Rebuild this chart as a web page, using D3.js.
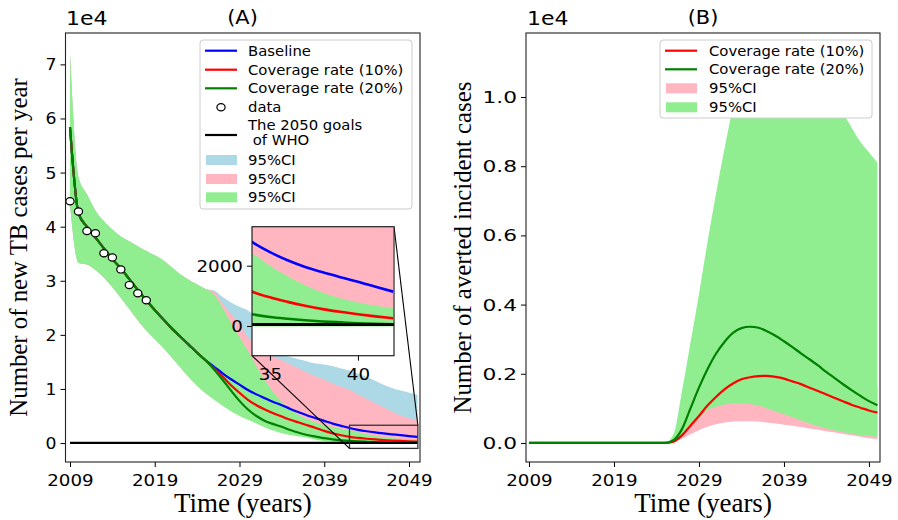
<!DOCTYPE html>
<html><head><meta charset="utf-8">
<script src="https://cdn.jsdelivr.net/npm/d3@7"></script>
<style>body{margin:0;background:#fff} svg{display:block}</style>
</head><body>
<script>
// ---------------- DATA (values in units of 1e4) ----------------
const years = [2009,2010,2011,2012,2013,2014,2015,2016,2017,2018,2019,2020,2021,2022,2023,2024,2025,
  2026,2027,2028,2029,2030,2031,2032,2033,2034,2035,2036,2037,2038,2039,2040,2041,2042,2043,2044,2045,2046,2047,2048,2049,2050];

// Panel A: new TB cases per year
const baseline = [5.84,4.25,4.0,3.8,3.6,3.4,3.23,3.03,2.83,2.64,2.46,2.29,2.12,1.97,1.82,1.67,1.53,
  1.41,1.29,1.18,1.08,0.98,0.9,0.83,0.76,0.7,0.63,0.57,0.51,0.46,0.41,0.36,0.318,0.278,0.245,0.218,0.196,0.178,0.162,0.147,0.13,0.114];
const cov10 = [5.84,4.25,4.0,3.8,3.6,3.4,3.23,3.03,2.83,2.64,2.46,2.29,2.12,1.97,1.82,1.67,1.53,
  1.38,1.23,1.07,0.93,0.8,0.7,0.62,0.55,0.49,0.43,0.38,0.33,0.28,0.225,0.18,0.145,0.114,0.095,0.08,0.067,0.056,0.047,0.039,0.032,0.0255];
const cov20 = [5.84,4.25,4.0,3.8,3.6,3.4,3.23,3.03,2.83,2.64,2.46,2.29,2.12,1.97,1.82,1.67,1.53,
  1.36,1.17,0.97,0.78,0.62,0.5,0.41,0.35,0.3,0.24,0.19,0.15,0.12,0.09,0.068,0.051,0.0388,0.03,0.024,0.019,0.015,0.012,0.009,0.007,0.0056];

const baseCIlow = [4.4,3.33,3.3,3.2,3.06,2.88,2.68,2.48,2.27,2.08,1.92,1.76,1.58,1.4,1.22,1.06,0.92,
  0.84,0.75,0.66,0.58,0.51,0.45,0.39,0.34,0.29,0.25,0.21,0.18,0.15,0.13,0.11,0.095,0.08,0.07,0.06,0.052,0.045,0.04,0.035,0.03,0.026];
const baseCIhigh = [7.2,4.92,4.6,4.3,4.1,3.95,3.82,3.73,3.64,3.55,3.47,3.38,3.25,3.12,3.02,2.93,2.85,
  2.82,2.7,2.6,2.52,2.45,2.3,2.05,1.75,1.64,1.59,1.55,1.51,1.47,1.45,1.42,1.38,1.34,1.28,1.22,1.15,1.08,1.02,0.97,0.93,0.89];
const cov10CIlow = [4.4,3.33,3.3,3.2,3.06,2.88,2.68,2.48,2.27,2.08,1.92,1.76,1.58,1.4,1.22,1.06,0.92,
  0.82,0.72,0.62,0.53,0.46,0.39,0.33,0.27,0.22,0.18,0.15,0.12,0.1,0.08,0.065,0.05,0.04,0.032,0.026,0.021,0.017,0.014,0.011,0.009,0.007];
const cov10CIhigh = [7.2,4.92,4.6,4.3,4.1,3.95,3.82,3.73,3.64,3.55,3.47,3.38,3.25,3.12,3.02,2.93,2.85,
  2.8,2.58,2.38,2.2,1.95,1.8,1.68,1.6,1.53,1.45,1.38,1.3,1.23,1.17,1.1,1.04,0.98,0.9,0.82,0.74,0.66,0.58,0.51,0.46,0.42];
const cov20CIlow = [4.4,3.33,3.3,3.2,3.06,2.88,2.68,2.48,2.27,2.08,1.92,1.76,1.58,1.4,1.22,1.06,0.92,
  0.8,0.69,0.59,0.5,0.43,0.36,0.29,0.23,0.18,0.15,0.12,0.1,0.06,0.04,0.025,0.012,-0.002,-0.002,-0.002,-0.002,-0.002,-0.002,-0.002,-0.002,-0.002];
const cov20CIhigh = [7.2,4.92,4.6,4.3,4.1,3.95,3.82,3.73,3.64,3.55,3.47,3.38,3.25,3.12,3.02,2.93,2.85,
  2.75,2.5,2.22,1.96,1.7,1.42,1.16,0.94,0.76,0.62,0.52,0.44,0.38,0.33,0.295,0.265,0.24,0.2,0.165,0.135,0.11,0.092,0.078,0.067,0.059];

const dataYears = [2009,2010,2011,2012,2013,2014,2015,2016,2017,2018];
const dataCases = [4.47,4.28,3.92,3.88,3.51,3.43,3.21,2.92,2.77,2.64];
const whoGoal = 0.005;

// Panel B: averted incident cases
const avert10 = [0,0,0,0,0,0,0,0,0,0,0,0,0,0,0,0,0,
  0.004,0.022,0.05,0.078,0.108,0.133,0.155,0.172,0.184,0.19,0.193,0.194,0.191,0.186,0.178,0.17,0.16,0.15,0.14,0.13,0.12,0.11,0.102,0.094,0.088];
const avert20 = [0,0,0,0,0,0,0,0,0,0,0,0,0,0,0,0,0,
  0.008,0.04,0.1,0.16,0.213,0.258,0.292,0.318,0.332,0.336,0.333,0.323,0.31,0.294,0.277,0.259,0.242,0.224,0.205,0.187,0.169,0.152,0.136,0.121,0.109];
const avert10CIlow = [0,0,0,0,0,0,0,0,0,0,0,0,0,0,0,0,0,
  0.002,0.012,0.025,0.037,0.047,0.054,0.059,0.062,0.063,0.063,0.062,0.059,0.056,0.053,0.05,0.046,0.042,0.038,0.034,0.03,0.026,0.022,0.018,0.014,0.011];
const avert10CIhigh = [0,0,0,0,0,0,0,0,0,0,0,0,0,0,0,0,0,
  0.01,0.05,0.1,0.15,0.2,0.24,0.27,0.29,0.3,0.3,0.3,0.3,0.29,0.28,0.27,0.26,0.25,0.24,0.22,0.21,0.2,0.19,0.18,0.17,0.16];
const avert20CIlow = [0,0,0,0,0,0,0,0,0,0,0,0,0,0,0,0,0,
  0.004,0.022,0.045,0.072,0.095,0.105,0.111,0.114,0.115,0.113,0.108,0.1,0.092,0.083,0.074,0.065,0.056,0.048,0.042,0.036,0.031,0.027,0.023,0.02,0.018];
const avert20CIhigh = [0,0,0,0,0,0,0,0,0,0,0,0,0,0,0,0,0,
  0.025,0.15,0.29,0.43,0.58,0.72,0.85,0.97,1.05,1.1,1.12,1.13,1.13,1.12,1.1,1.08,1.06,1.04,1.01,0.98,0.95,0.91,0.87,0.84,0.81];

const xTicks = [2009,2019,2029,2039,2049];
const yTicksA = [0,1,2,3,4,5,6,7];
const yTicksB = [0,0.2,0.4,0.6,0.8,1.0];
const insetXTicks = [35,40];
const insetYTicks = [0,2000];
const legendA = ["Baseline","Coverage rate (10%)","Coverage rate (20%)","data","The 2050 goals"," of WHO","95%CI","95%CI","95%CI"];
const legendB = ["Coverage rate (10%)","Coverage rate (20%)","95%CI","95%CI"];

// ---------------- STYLE ----------------
const C = {blue:"#0000ff", red:"#ff0000", green:"#008000", lblue:"#add8e6", pink:"#ffb6c1", lgreen:"#90ee90"};
const SANS = "DejaVu Sans", SERIF = "Liberation Serif";
const CURVE = d3.curveMonotoneX;

const svg = d3.select("body").append("svg").attr("width",898).attr("height",520);

function text(parent, x, y, s, o={}) {
  return parent.append("text")
    .attr("transform", `translate(${x},${y})` + (o.rot ? ` rotate(${o.rot})` : "") + ` scale(${o.sx||1},1)`)
    .attr("font-family", o.family || SANS)
    .attr("font-size", o.size || 15)
    .attr("text-anchor", o.anchor || "start")
    .attr("fill", "#000")
    .style("white-space","pre")
    .text(s);
}

function frameAxes(box, x, y, xt, yt, yfmt, ysx) {
  const g = svg.append("g");
  const gx = g.append("g").attr("transform",`translate(0,${box.b})`)
    .call(d3.axisBottom(x).tickValues(xt).tickSize(5).tickFormat(d3.format("d")));
  gx.select(".domain").remove();
  gx.selectAll(".tick line").attr("stroke","#000").attr("stroke-width",1);
  gx.selectAll(".tick text").attr("y",null).attr("dy",null)
    .attr("transform","translate(0,24) scale(1.22,1)")
    .attr("font-family",SANS).attr("font-size",15).attr("fill","#000");
  const gy = g.append("g").attr("transform",`translate(${box.l},0)`)
    .call(d3.axisLeft(y).tickValues(yt).tickSize(5).tickFormat(yfmt));
  gy.select(".domain").remove();
  gy.selectAll(".tick line").attr("stroke","#000").attr("stroke-width",1);
  gy.selectAll(".tick text").attr("x",null).attr("dy",null)
    .attr("transform",`translate(-9,5.5) scale(${ysx},1)`)
    .attr("font-family",SANS).attr("font-size",15).attr("fill","#000");
  return g;
}

function area(x, y, lo, hi, yr, k=1) {
  return d3.area().curve(CURVE).x((d,i)=>x(yr[i])).y0((d,i)=>y(lo[i]*k)).y1((d,i)=>y(hi[i]*k))(lo);
}
function line(x, y, v, yr, k=1) {
  return d3.line().curve(CURVE).x((d,i)=>x(yr[i])).y((d,i)=>y(v[i]*k))(v);
}

// ---------------- PANEL A ----------------
const A = {l:65.5, r:420, t:33, b:462};
const xA = d3.scaleLinear().domain([2008.47, 2050.3]).range([A.l, A.r]);
const yA = d3.scaleLinear().domain([-0.35, 7.58]).range([A.b, A.t]);

svg.append("clipPath").attr("id","clipA").append("rect")
  .attr("x",A.l).attr("y",A.t).attr("width",A.r-A.l).attr("height",A.b-A.t);
const pA = svg.append("g").attr("clip-path","url(#clipA)");
pA.append("path").attr("d",area(xA,yA,baseCIlow,baseCIhigh,years)).attr("fill",C.lblue);
pA.append("path").attr("d",area(xA,yA,cov10CIlow,cov10CIhigh,years)).attr("fill",C.pink);
pA.append("path").attr("d",area(xA,yA,cov20CIlow,cov20CIhigh,years)).attr("fill",C.lgreen);
pA.append("path").attr("d",line(xA,yA,baseline,years)).attr("fill","none").attr("stroke",C.blue).attr("stroke-width",2.2);
pA.append("path").attr("d",line(xA,yA,cov10,years)).attr("fill","none").attr("stroke",C.red).attr("stroke-width",2.2);
pA.append("path").attr("d",line(xA,yA,cov20,years)).attr("fill","none").attr("stroke",C.green).attr("stroke-width",2.2);
pA.selectAll("ellipse.obs").data(dataCases).join("ellipse").attr("class","obs")
  .attr("cx",(d,i)=>xA(dataYears[i])).attr("cy",d=>yA(d)).attr("rx",4.1).attr("ry",3.6)
  .attr("fill","#fff").attr("stroke","#000").attr("stroke-width",1.2);
pA.append("line").attr("x1",xA(years[0])).attr("x2",xA(years[years.length-1]))
  .attr("y1",yA(whoGoal)).attr("y2",yA(whoGoal)).attr("stroke","#000").attr("stroke-width",2.2);

frameAxes(A, xA, yA, xTicks, yTicksA, d3.format("d"), 1.15);
svg.append("rect").attr("x",A.l).attr("y",A.t).attr("width",A.r-A.l).attr("height",A.b-A.t)
  .attr("fill","none").attr("stroke","#222").attr("stroke-width",1.1);

// inset
const I = {l:252, r:394, t:226.7, b:355.7};
const xI = d3.scaleLinear().domain([33.98, 42.05]).range([I.l, I.r]);
const yI = d3.scaleLinear().domain([-985, 3293]).range([I.b, I.t]);
const yrsT = years.map(d=>d-2008);
const bx0 = xA(33.98+2008), bx1 = xA(42.05+2008), by0 = yA(3293/1e4), by1 = yA(-985/1e4);
svg.append("rect").attr("x",bx0).attr("y",by0).attr("width",bx1-bx0).attr("height",by1-by0)
  .attr("fill","none").attr("stroke","#333").attr("stroke-width",1.3);
svg.append("line").attr("x1",I.l).attr("y1",I.b).attr("x2",bx0).attr("y2",by1).attr("stroke","#000").attr("stroke-width",1.1);
svg.append("line").attr("x1",I.r).attr("y1",I.t).attr("x2",bx1).attr("y2",by0).attr("stroke","#000").attr("stroke-width",1.1);

svg.append("rect").attr("x",I.l).attr("y",I.t).attr("width",I.r-I.l).attr("height",I.b-I.t).attr("fill","#fff");
svg.append("clipPath").attr("id","clipI").append("rect")
  .attr("x",I.l).attr("y",I.t).attr("width",I.r-I.l).attr("height",I.b-I.t);
const pI = svg.append("g").attr("clip-path","url(#clipI)");
pI.append("path").attr("d",area(xI,yI,baseCIlow,baseCIhigh,yrsT,1e4)).attr("fill",C.lblue);
pI.append("path").attr("d",area(xI,yI,cov10CIlow,cov10CIhigh,yrsT,1e4)).attr("fill",C.pink);
pI.append("path").attr("d",area(xI,yI,cov20CIlow,cov20CIhigh,yrsT,1e4)).attr("fill",C.lgreen);
pI.append("path").attr("d",line(xI,yI,baseline,yrsT,1e4)).attr("fill","none").attr("stroke",C.blue).attr("stroke-width",2.6);
pI.append("path").attr("d",line(xI,yI,cov10,yrsT,1e4)).attr("fill","none").attr("stroke",C.red).attr("stroke-width",2.6);
pI.append("path").attr("d",line(xI,yI,cov20,yrsT,1e4)).attr("fill","none").attr("stroke",C.green).attr("stroke-width",2.6);
pI.append("line").attr("x1",I.l).attr("x2",I.r).attr("y1",yI(whoGoal*1e4)).attr("y2",yI(whoGoal*1e4))
  .attr("stroke","#000").attr("stroke-width",3.2);
frameAxes(I, xI, yI, insetXTicks, insetYTicks, d3.format("d"), 1.22);
svg.append("rect").attr("x",I.l).attr("y",I.t).attr("width",I.r-I.l).attr("height",I.b-I.t)
  .attr("fill","none").attr("stroke","#222").attr("stroke-width",1.2);

// labels A
text(svg, 66, 25, "1e4", {size:20, sx:1.1});
text(svg, 242.5, 24, "(A)", {size:19, sx:1.1, anchor:"middle"});
text(svg, 242.75, 512, "Time (years)", {size:27, family:SERIF, anchor:"middle"});
text(svg, 27, 247.5, "Number of new TB cases per year", {size:24.8, family:SERIF, anchor:"middle", rot:-90});

// legend A
const LA = svg.append("g");
LA.append("rect").attr("x",200).attr("y",40).attr("width",212).attr("height",169).attr("rx",3)
  .attr("fill","#fff").attr("stroke","#ccc").attr("stroke-width",1);
const lyA = [50.7,69.7,88.3,107.3,135,160,179,197.3];
[[C.blue,0],[C.red,1],[C.green,2],["#000",4]].forEach(([c,i])=>{
  LA.append("line").attr("x1",205).attr("x2",237).attr("y1",lyA[i]).attr("y2",lyA[i]).attr("stroke",c).attr("stroke-width",2.2);
});
LA.append("ellipse").attr("cx",221).attr("cy",lyA[3]).attr("rx",4.1).attr("ry",3.6).attr("fill","#fff").attr("stroke","#000").attr("stroke-width",1.2);
[[C.lblue,5],[C.pink,6],[C.lgreen,7]].forEach(([c,i])=>{
  LA.append("rect").attr("x",206).attr("y",lyA[i]-5).attr("width",31).attr("height",10).attr("fill",c);
});
const lfs = 13.5, loff = 0.36*lfs;
text(LA, 248, lyA[0]+loff, legendA[0], {size:lfs, sx:1.1});
text(LA, 248, lyA[1]+loff, legendA[1], {size:lfs, sx:1.1});
text(LA, 248, lyA[2]+loff, legendA[2], {size:lfs, sx:1.1});
text(LA, 248, lyA[3]+loff, legendA[3], {size:lfs, sx:1.1});
text(LA, 248, 125.6+loff, legendA[4], {size:lfs, sx:1.1});
text(LA, 248, 139.8+loff, legendA[5], {size:lfs, sx:1.1});
text(LA, 248, lyA[5]+loff, legendA[6], {size:lfs, sx:1.1});
text(LA, 248, lyA[6]+loff, legendA[7], {size:lfs, sx:1.1});
text(LA, 248, lyA[7]+loff, legendA[8], {size:lfs, sx:1.1});

// ---------------- PANEL B ----------------
const B = {l:526, r:880, t:33, b:462};
const xB = d3.scaleLinear().domain([2008.65, 2050.3]).range([B.l, B.r]);
const yB = d3.scaleLinear().domain([-0.055, 1.185]).range([B.b, B.t]);
svg.append("clipPath").attr("id","clipB").append("rect")
  .attr("x",B.l).attr("y",B.t).attr("width",B.r-B.l).attr("height",B.b-B.t);
const pB = svg.append("g").attr("clip-path","url(#clipB)");
pB.append("path").attr("d",area(xB,yB,avert10CIlow,avert10CIhigh,years)).attr("fill",C.pink);
pB.append("path").attr("d",area(xB,yB,avert20CIlow,avert20CIhigh,years)).attr("fill",C.lgreen);
pB.append("path").attr("d",line(xB,yB,avert10,years)).attr("fill","none").attr("stroke",C.red).attr("stroke-width",2.2);
pB.append("path").attr("d",line(xB,yB,avert20,years)).attr("fill","none").attr("stroke",C.green).attr("stroke-width",2.2);
frameAxes(B, xB, yB, xTicks, yTicksB, d3.format(".1f"), 1.45);
svg.append("rect").attr("x",B.l).attr("y",B.t).attr("width",B.r-B.l).attr("height",B.b-B.t)
  .attr("fill","none").attr("stroke","#222").attr("stroke-width",1.1);

text(svg, 527, 25, "1e4", {size:20, sx:1.1});
text(svg, 703, 24, "(B)", {size:19, sx:1.1, anchor:"middle"});
text(svg, 703, 512, "Time (years)", {size:27, family:SERIF, anchor:"middle"});
text(svg, 471, 247.5, "Number of averted incident cases", {size:24.8, family:SERIF, anchor:"middle", rot:-90});

const LB = svg.append("g");
LB.append("rect").attr("x",660).attr("y",40).attr("width",212).attr("height",78).attr("rx",3)
  .attr("fill","#fff").attr("stroke","#ccc").attr("stroke-width",1);
const lyB = [50.7,69.3,88.3,107.3];
LB.append("line").attr("x1",665).attr("x2",697).attr("y1",lyB[0]).attr("y2",lyB[0]).attr("stroke",C.red).attr("stroke-width",2.2);
LB.append("line").attr("x1",665).attr("x2",697).attr("y1",lyB[1]).attr("y2",lyB[1]).attr("stroke",C.green).attr("stroke-width",2.2);
LB.append("rect").attr("x",666).attr("y",lyB[2]-5).attr("width",31).attr("height",10).attr("fill",C.pink);
LB.append("rect").attr("x",666).attr("y",lyB[3]-5).attr("width",31).attr("height",10).attr("fill",C.lgreen);
legendB.forEach((s,i)=>text(LB, 709, lyB[i]+loff, s, {size:lfs, sx:1.1}));
</script>
</body></html>
